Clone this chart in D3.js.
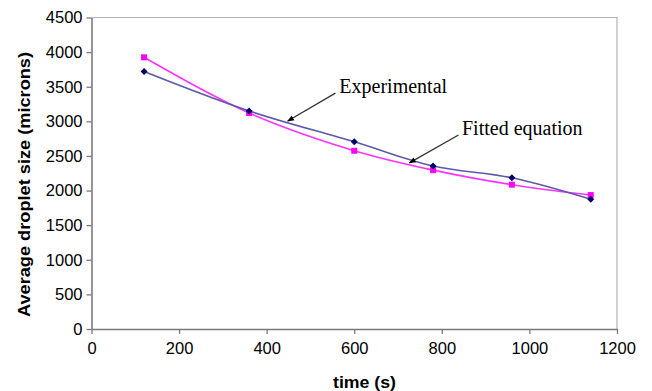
<!DOCTYPE html>
<html>
<head>
<meta charset="utf-8">
<script src="https://cdn.jsdelivr.net/npm/d3@7"></script>
<style>
  body { margin: 0; background: #fff; }
  svg text { font-family: "Liberation Sans", Arial, sans-serif; }
</style>
</head>
<body>
<div id="chart"></div>
<script>
// data
const times = [120, 360, 600, 780, 960, 1140];
const experimental = [3720, 3150, 2705, 2355, 2185, 1875];
const fitted = [3925, 3120, 2575, 2295, 2085, 1935];
const xTicks = [0, 200, 400, 600, 800, 1000, 1200];
const yTicks = [0, 500, 1000, 1500, 2000, 2500, 3000, 3500, 4000, 4500];

// callouts, in data units
const notes = [
  { label: "Experimental", text: [566, 3408], from: [557, 3408], to: [448, 3004] },
  { label: "Fitted equation", text: [846, 2802], from: [838, 2802], to: [726, 2399] }
];

const width = 652, height = 391;
const margin = { top: 17.5, right: 35, bottom: 62, left: 91.5 };
const innerW = width - margin.left - margin.right;
const innerH = height - margin.top - margin.bottom;

const svg = d3.select("#chart").append("svg")
    .attr("width", width)
    .attr("height", height);

const g = svg.append("g")
    .attr("transform", `translate(${margin.left},${margin.top})`);

const x = d3.scaleLinear().domain([0, 1200]).range([0, innerW]);
const y = d3.scaleLinear().domain([0, 4500]).range([innerH, 0]);

// light frame on top and right
g.append("path")
    .attr("d", `M0,0H${innerW}V${innerH}`)
    .attr("fill", "none")
    .attr("stroke", "#b4b4b4")
    .attr("stroke-width", 1.2);

const xAxis = g.append("g")
    .attr("transform", `translate(0,${innerH})`)
    .call(d3.axisBottom(x).tickValues(xTicks).tickFormat(d3.format("d"))
        .tickSize(5).tickPadding(8).tickSizeOuter(0));

const yAxis = g.append("g")
    .call(d3.axisLeft(y).tickValues(yTicks).tickFormat(d3.format("d"))
        .tickSize(5).tickPadding(4).tickSizeOuter(0));

[xAxis, yAxis].forEach(a => {
    a.select(".domain").attr("stroke", "#7a7a7a").attr("stroke-width", 1.6);
    a.selectAll(".tick line").attr("stroke", "#7a7a7a").attr("stroke-width", 1.3);
    a.selectAll(".tick text")
        .attr("fill", "#000")
        .style("font-size", "16.5px")
        .style("font-family", "'Liberation Sans', Arial, sans-serif");
});

// axis titles
svg.append("text")
    .attr("x", 364.5)
    .attr("y", 388)
    .attr("text-anchor", "middle")
    .attr("textLength", 63)
    .attr("lengthAdjust", "spacingAndGlyphs")
    .style("font-size", "16px")
    .style("font-weight", "bold")
    .text("time (s)");

svg.append("text")
    .attr("transform", "translate(29.5,184.5) rotate(-90)")
    .attr("text-anchor", "middle")
    .attr("textLength", 265)
    .attr("lengthAdjust", "spacingAndGlyphs")
    .style("font-size", "16px")
    .style("font-weight", "bold")
    .text("Average droplet size (microns)");

// series
const line = d3.line()
    .x(d => x(d[0]))
    .y(d => y(d[1]))
    .curve(d3.curveCatmullRom.alpha(0.5));

const fitPts = times.map((t, i) => [t, fitted[i]]);
const expPts = times.map((t, i) => [t, experimental[i]]);

g.append("path")
    .datum(fitPts)
    .attr("d", line)
    .attr("fill", "none")
    .attr("stroke", "#ff33ff")
    .attr("stroke-width", 1.6);

g.append("path")
    .datum(expPts)
    .attr("d", line)
    .attr("fill", "none")
    .attr("stroke", "#5a5aa8")
    .attr("stroke-width", 1.6);

g.selectAll(".sq")
    .data(fitPts)
    .join("rect")
    .attr("class", "sq")
    .attr("x", d => x(d[0]) - 3)
    .attr("y", d => y(d[1]) - 3)
    .attr("width", 6)
    .attr("height", 6)
    .attr("fill", "#ff00ff");

g.selectAll(".dia")
    .data(expPts)
    .join("path")
    .attr("class", "dia")
    .attr("transform", d => `translate(${x(d[0])},${y(d[1])})`)
    .attr("d", "M0,-3.5L3.5,0L0,3.5L-3.5,0Z")
    .attr("fill", "#000066");

// callouts
svg.append("defs").append("marker")
    .attr("id", "head")
    .attr("viewBox", "0 0 10 10")
    .attr("refX", 9)
    .attr("refY", 5)
    .attr("markerWidth", 7)
    .attr("markerHeight", 7)
    .attr("markerUnits", "userSpaceOnUse")
    .attr("orient", "auto")
    .append("path")
    .attr("d", "M0,1L10,5L0,9Z")
    .attr("fill", "#000");

notes.forEach(n => {
    g.append("line")
        .attr("x1", x(n.from[0]))
        .attr("y1", y(n.from[1]))
        .attr("x2", x(n.to[0]))
        .attr("y2", y(n.to[1]))
        .attr("stroke", "#333")
        .attr("stroke-width", 1.3)
        .attr("marker-end", "url(#head)");
    g.append("text")
        .attr("x", x(n.text[0]))
        .attr("y", y(n.text[1]))
        .style("font-family", "'Liberation Serif', 'Times New Roman', serif")
        .style("font-size", "20px")
        .text(n.label);
});
</script>
</body>
</html>
